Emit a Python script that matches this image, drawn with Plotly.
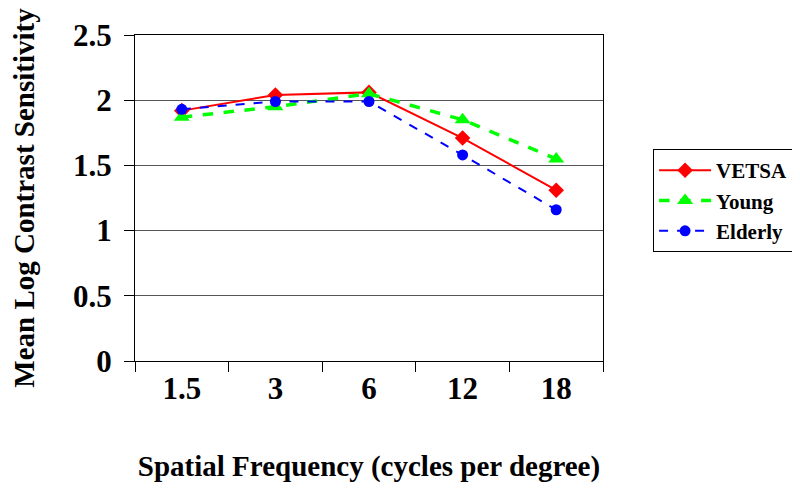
import plotly.graph_objects as go

categories = ["1.5", "3", "6", "12", "18"]
vetsa = [1.92, 2.04, 2.06, 1.71, 1.31]
young = [1.87, 1.95, 2.05, 1.85, 1.55]
elderly = [1.93, 1.99, 1.99, 1.58, 1.16]

FONT = "Liberation Serif"

fig = go.Figure()
fig.add_trace(go.Scatter(x=categories, y=vetsa, name="VETSA", mode="lines+markers",
                         line=dict(color="#FF0000", width=2),
                         marker=dict(symbol="diamond", size=12, color="#FF0000")))
fig.add_trace(go.Scatter(x=categories, y=young, name="Young", mode="lines+markers",
                         line=dict(color="#00FF00", width=3.5, dash="dash"),
                         marker=dict(symbol="triangle-up", size=14, color="#00FF00")))
fig.add_trace(go.Scatter(x=categories, y=elderly, name="Elderly", mode="lines+markers",
                         line=dict(color="#0000FF", width=2, dash="dash"),
                         marker=dict(symbol="circle", size=11, color="#0000FF")))

fig.update_layout(
    width=800, height=488,
    margin=dict(l=127, r=205, t=27, b=135),
    paper_bgcolor="white", plot_bgcolor="white",
    font=dict(family=FONT, color="black"),
    showlegend=True,
    legend=dict(x=1.107, y=0.65, xanchor="left", yanchor="top",
                bordercolor="black", borderwidth=1,
                font=dict(family=FONT, size=21, color="black", weight="bold"),
                itemwidth=52),
    xaxis=dict(type="category", range=[-0.5, 4.5], categoryorder="array", categoryarray=categories,
               showline=True, linecolor="black", linewidth=1, mirror=True,
               ticks="outside", ticklen=10, tickcolor="black", tickson="boundaries",
               showgrid=False, zeroline=False, automargin=False,
               tickfont=dict(family=FONT, size=31, color="black", weight="bold"),
               title=dict(text="Spatial Frequency (cycles per degree)", standoff=50,
                          font=dict(family=FONT, size=29, color="black", weight="bold"))),
    yaxis=dict(range=[0, 2.5], tickvals=[0, 0.5, 1, 1.5, 2, 2.5],
               ticktext=["0", "0.5", "1", "1.5", "2", "2.5"],
               showline=True, linecolor="black", linewidth=1, mirror=True,
               ticks="outside", ticklen=10, tickcolor="black",
               showgrid=True, gridcolor="#555555", gridwidth=1, zeroline=False,
               ticklabelstandoff=6, automargin=False,
               tickfont=dict(family=FONT, size=31, color="black", weight="bold"),
               title=dict(text="Mean Log Contrast Sensitivity", standoff=30,
                          font=dict(family=FONT, size=29, color="black", weight="bold"))),
)

fig.write_html("out.html")
